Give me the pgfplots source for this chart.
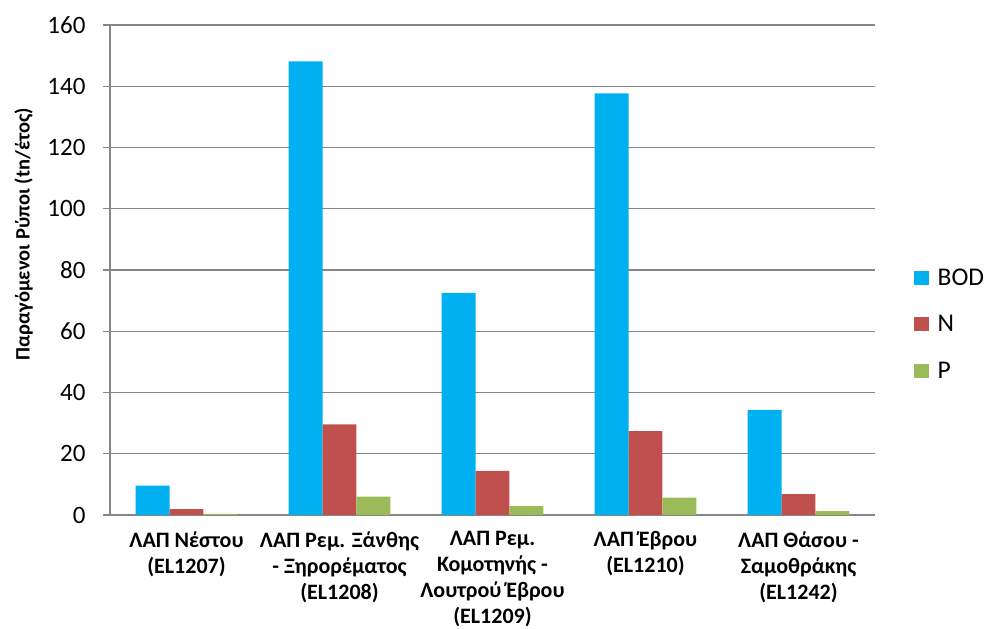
\documentclass[border=0pt]{standalone}
\usepackage{pgfplots}
\pgfplotsset{compat=1.18}
\usepackage{fontspec}
\setmainfont{Carlito}
\definecolor{cBOD}{HTML}{00B0F0}
\definecolor{cN}{HTML}{C0504D}
\definecolor{cP}{HTML}{9BBB59}
\definecolor{gridc}{HTML}{868686}
\begin{document}
\begin{tikzpicture}
\useasboundingbox (0,0) rectangle (989pt,629pt);
\begin{axis}[
  at={(110pt,114pt)}, anchor=south west,
  scale only axis, width=765pt, height=490pt,
  xmin=-0.5, xmax=4.5, ymin=0, ymax=160,
  ytick={0,20,...,160},
  xtick={0,1,2,3,4},
  xticklabels={{ΛΑΠ Νέστου\\(EL1207)},{ΛΑΠ Ρεμ. Ξάνθης\\- Ξηρορέματος\\(EL1208)},{ΛΑΠ Ρεμ.\\Κομοτηνής -\\Λουτρού Έβρου\\(EL1209)},{ΛΑΠ Έβρου\\(EL1210)},{ΛΑΠ Θάσου -\\Σαμοθράκης\\(EL1242)}},
  xticklabel style={align=center, font=\fontsize{22}{26}\selectfont\bfseries, yshift=-6pt},
  yticklabel style={font=\fontsize{25}{29}\selectfont, xshift=-14pt},
  /pgf/number format/assume math mode=true,
  axis x line*=bottom, axis y line*=left,
  axis line style={gridc, line width=1.2pt},
  ymajorgrids, grid style={gridc, line width=1.2pt},
  tick align=outside, major tick length=7pt,
  ytick style={gridc, line width=1.2pt},
  xtick style={draw=none},
  ybar=0pt, bar width=0.222,
  ylabel={Παραγόμενοι Ρύποι (tn/έτος)},
  ylabel style={at={(axis description cs:-0.113,0.573)}, anchor=center, font=\fontsize{20.5}{24}\selectfont\bfseries},
  legend style={at={(axis description cs:1.051,0.389)}, anchor=west, draw=none, fill=none,
    font=\fontsize{25.5}{29}\selectfont, row sep=25pt, column sep=7pt, inner sep=0pt},
  legend cell align=left,
  legend image code/.code={\fill[#1] (0pt,-7pt) rectangle (14.5pt,7pt);},
]
\addplot[fill=cBOD, draw=none, bar shift=-0.222] coordinates {(0,9.6) (1,148.1) (2,72.5) (3,137.7) (4,34.3)};
\addplot[fill=cN, draw=none, bar shift=0] coordinates {(0,1.9) (1,29.6) (2,14.4) (3,27.4) (4,6.8)};
\addplot[fill=cP, draw=none, bar shift=0.222] coordinates {(0,0.4) (1,6.0) (2,2.9) (3,5.7) (4,1.3)};
\legend{BOD,N,P}
\end{axis}
\end{tikzpicture}
\end{document}
